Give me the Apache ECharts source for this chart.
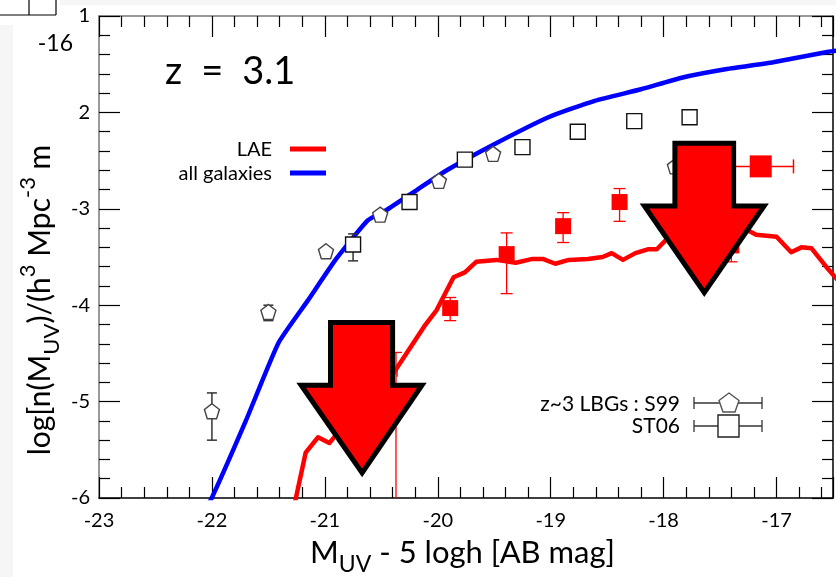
<!DOCTYPE html>
<html><head><meta charset="utf-8">
<script src="https://cdn.jsdelivr.net/npm/echarts@6/dist/echarts.min.js"></script>
<style>html,body{margin:0;padding:0;background:#fff}#c{width:836px;height:577px}</style>
</head><body><div id="c"></div>
<script>
// ---- data ----
const xTicks = [-23, -22, -21, -20, -19, -18, -17];
const yTicks = [-6, -5, -4, -3, -2, -1];
const yTickLabels = {'-1': '1', '-2': '2', '-3': '-3', '-4': '-4', '-5': '-5', '-6': '-6'};
const allGalX = [-22.08, -22.01, -21.7, -21.41, -21.15, -20.9, -20.62, -20.45, -20.18, -19.92, -19.5, -19.02, -18.61, -18.2, -17.84, -17.44, -17.03, -16.54, -16.4];
const allGalY = [-6.12, -6.02, -5.2, -4.39, -3.95, -3.52, -3.12, -3.01, -2.80, -2.60, -2.33, -2.05, -1.88, -1.76, -1.64, -1.55, -1.48, -1.37, -1.35];
const laeX = [-21.28, -21.26, -21.17, -21.06, -20.96, -20.89, -20.71, -20.54, -20.39, -20.12, -20.01, -19.86, -19.76, -19.66, -19.48, -19.31, -19.16, -19.07, -18.96, -18.84, -18.67, -18.54, -18.46, -18.36, -18.25, -18.14, -18.06, -17.96, -17.73, -17.46, -17.26, -17.18, -17.0, -16.87, -16.78, -16.69, -16.54, -16.45];
const laeY = [-6.2, -6.02, -5.53, -5.37, -5.43, -5.33, -5.09, -4.88, -4.70, -4.22, -4.05, -3.71, -3.66, -3.55, -3.53, -3.56, -3.52, -3.52, -3.57, -3.53, -3.52, -3.50, -3.46, -3.53, -3.46, -3.42, -3.42, -3.30, -3.20, -3.14, -3.22, -3.27, -3.29, -3.45, -3.40, -3.41, -3.63, -3.75];
// S99 pentagons: x, y, yLow, yHigh
const s99X = [-22.0, -21.50, -20.99, -20.51, -19.99, -19.51, -17.90];
const s99Y = [-5.10, -4.07, -3.44, -3.06, -2.71, -2.43, -2.56];
const s99Lo = [-5.40, -4.16, null, null, null, null, null];
const s99Hi = [-4.91, -4.00, null, null, null, null, null];
// ST06 squares
const st06X = [-20.75, -20.25, -19.76, -19.25, -18.76, -18.26, -17.77];
const st06Y = [-3.37, -2.93, -2.49, -2.36, -2.20, -2.09, -2.05];
const st06Lo = [-3.54, null, null, null, null, null, null];
const st06Hi = [-3.26, null, null, null, null, null, null];
// LAE observed points (red squares)
const laeObsX = [-20.55, -19.89, -19.39, -18.89, -18.39, -17.40];
const laeObsY = [-4.68, -4.03, -3.47, -3.18, -2.93, -3.38];
const laeObsLo = [-6.3, -4.16, -3.88, -3.35, -3.13, -3.55];
const laeObsHi = [-4.49, -3.92, -3.25, -3.04, -2.79, -3.20];
const laeObsErrX = [-20.37, -19.89, -19.39, -18.89, -18.39, -17.40];
const laeObsXLo = [-20.96, null, null, null, null, null];
const laeObsXHi = [-20.36, null, null, null, null, null];
const laeBigX = [-17.14];
const laeBigY = [-2.56];
const laeBigXLo = [-17.43];
const laeBigXHi = [-16.85];
// annotation arrows (data coords): shaftL, shaftR, shaftTop, headY, headL, headR, tipX, tipY
const arrow1 = [-20.95, -20.40, -4.18, -4.83, -21.21, -20.14, -20.67, -5.74];
const arrow2 = [-17.90, -17.38, -2.32, -2.97, -18.17, -17.11, -17.64, -3.87];

// ---- build ----
const FONT = 'Lato';
const zip = (a, b) => a.map((v, i) => [v, b[i]]);
const pent = 'path://M0,-10 L9.51,-3.09 L5.88,8.09 L-5.88,8.09 L-9.51,-3.09 Z';

function vErr(xs, lo, hi, color, cap, lw) {
  const data = xs.map((x, i) => [x, lo[i], hi[i]]).filter(d => d[1] != null);
  return {
    type: 'custom', z: 3, silent: true, clip: true, data,
    renderItem(p, api) {
      const a = api.coord([api.value(0), api.value(1)]);
      const b = api.coord([api.value(0), api.value(2)]);
      const st = {stroke: color, lineWidth: lw};
      return {type: 'group', children: [
        {type: 'line', shape: {x1: a[0], y1: a[1], x2: b[0], y2: b[1]}, style: st},
        {type: 'line', shape: {x1: a[0] - cap, y1: a[1], x2: a[0] + cap, y2: a[1]}, style: st},
        {type: 'line', shape: {x1: b[0] - cap, y1: b[1], x2: b[0] + cap, y2: b[1]}, style: st}
      ]};
    }
  };
}
function hErr(ys, lo, hi, color, cap, lw) {
  const data = ys.map((y, i) => [y, lo[i], hi[i]]).filter(d => d[1] != null);
  return {
    type: 'custom', z: 3, silent: true, clip: true, data,
    renderItem(p, api) {
      const a = api.coord([api.value(1), api.value(0)]);
      const b = api.coord([api.value(2), api.value(0)]);
      const st = {stroke: color, lineWidth: lw};
      return {type: 'group', children: [
        {type: 'line', shape: {x1: a[0], y1: a[1], x2: b[0], y2: b[1]}, style: st},
        {type: 'line', shape: {x1: a[0], y1: a[1] - cap, x2: a[0], y2: a[1] + cap}, style: st},
        {type: 'line', shape: {x1: b[0], y1: b[1] - cap, x2: b[0], y2: b[1] + cap}, style: st}
      ]};
    }
  };
}
function arrowSeries(arr) {
  return {
    type: 'custom', z: 10, silent: true, clip: false, data: [arr],
    renderItem(p, api) {
      const v = i => api.value(i);
      const c = (x, y) => api.coord([x, y]);
      const pts = [c(v(0), v(2)), c(v(1), v(2)), c(v(1), v(3)), c(v(5), v(3)), c(v(6), v(7)), c(v(4), v(3)), c(v(0), v(3))];
      return {type: 'polygon', shape: {points: pts}, style: {fill: '#ff0000', stroke: '#000', lineWidth: 5, lineJoin: 'miter'}};
    }
  };
}

const axisCommon = {
  interval: 1,
  axisLine: {show: true, onZero: false, lineStyle: {color: '#000', width: 1.5}},
  axisTick: {show: true, inside: true, length: 21, lineStyle: {color: '#000', width: 1.2}},
  minorTick: {show: true, splitNumber: 5, length: 11, lineStyle: {color: '#000', width: 1.2}},
  splitLine: {show: false}
};

const chart = echarts.init(document.getElementById('c'), null, {renderer: 'canvas'});
const option = {
  backgroundColor: '#fff',
  animation: false,
  grid: {left: 99, top: 16, right: -4, bottom: 79, containLabel: false},
  xAxis: [
    Object.assign({}, axisCommon, {type: 'value', position: 'bottom', min: -23, max: -16.5,
      axisLabel: {show: true, margin: 13, fontFamily: FONT, fontSize: 20, color: '#000',
        formatter: v => xTicks.includes(v) ? String(v) : ''}}),
    Object.assign({}, axisCommon, {type: 'value', position: 'top', min: -23, max: -16.5,
      axisLine: {show: true, onZero: false, lineStyle: {color: '#777', width: 1.5}},
      axisLabel: {show: false}})
  ],
  yAxis: [
    Object.assign({}, axisCommon, {type: 'value', position: 'left', min: -6, max: -1,
      axisLine: {show: true, onZero: false, lineStyle: {color: '#777', width: 1.5}},
      axisLabel: {show: true, margin: 9, fontFamily: FONT, fontSize: 20, color: '#000',
        formatter: v => yTickLabels[String(v)] || ''}}),
    Object.assign({}, axisCommon, {type: 'value', position: 'right', min: -6, max: -1,
      axisLabel: {show: false}})
  ],
  series: [
    {type: 'line', z: 2, data: zip(allGalX, allGalY), showSymbol: false, symbol: 'none', smooth: 0.15,
      lineStyle: {color: '#0000ff', width: 4.5}, clip: true},
    {type: 'line', z: 2, data: zip(laeX, laeY), showSymbol: false, symbol: 'none',
      lineStyle: {color: '#ff0000', width: 4.5, join: 'round'}, clip: true},
    vErr(s99X, s99Lo, s99Hi, '#333', 5, 1.5),
    vErr(st06X, st06Lo, st06Hi, '#333', 5, 1.5),
    vErr(laeObsErrX, laeObsLo, laeObsHi, '#ff0000', 6, 1.3),
    hErr(laeObsY, laeObsXLo, laeObsXHi, '#ff0000', 6, 1.3),
    hErr(laeBigY, laeBigXLo, laeBigXHi, '#ff0000', 7, 1.5),
    {type: 'scatter', z: 4, data: zip(s99X, s99Y), symbol: pent, symbolSize: 15,
      itemStyle: {color: '#fff', borderColor: '#444', borderWidth: 1.4, opacity: 1}},
    {type: 'scatter', z: 4, data: zip(st06X, st06Y), symbol: 'rect', symbolSize: 15,
      itemStyle: {color: '#fff', borderColor: '#111', borderWidth: 1.4, opacity: 1}},
    {type: 'scatter', z: 5, data: zip(laeObsX, laeObsY), symbol: 'rect', symbolSize: 16,
      itemStyle: {color: '#ff0000', opacity: 1}},
    {type: 'scatter', z: 5, data: zip(laeBigX, laeBigY), symbol: 'rect', symbolSize: 22,
      itemStyle: {color: '#ff0000', opacity: 1}},
    arrowSeries(arrow1),
    arrowSeries(arrow2)
  ],
  graphic: [
    {type: 'rect', z: -1, shape: {x: 0, y: 25, width: 13, height: 552}, style: {fill: '#f6f6f6'}},
    {type: 'rect', z: -1, shape: {x: 60, y: 0, width: 776, height: 5}, style: {fill: '#f6f6f6'}},
    {type: 'line', shape: {x1: 0, y1: 15, x2: 56, y2: 15}, style: {stroke: '#000', lineWidth: 1.2}},
    {type: 'line', shape: {x1: 29, y1: 0, x2: 29, y2: 15}, style: {stroke: '#000', lineWidth: 1.2}},
    {type: 'line', shape: {x1: 56, y1: 0, x2: 56, y2: 15}, style: {stroke: '#000', lineWidth: 1.2}},
    {type: 'text', x: 73, y: 44, style: {text: '-16', fontFamily: FONT, fontSize: 23, fill: '#000', align: 'right', verticalAlign: 'middle'}},
    {type: 'text', x: 165, y: 72, style: {text: 'z\u2002=\u20023.1', fontFamily: FONT, fontSize: 38, fill: '#000', align: 'left', verticalAlign: 'middle'}},
    {type: 'text', x: 272, y: 150, style: {text: 'LAE', fontFamily: FONT, fontSize: 20, fill: '#000', align: 'right', verticalAlign: 'middle'}},
    {type: 'text', x: 272, y: 174, style: {text: 'all galaxies', fontFamily: FONT, fontSize: 20, fill: '#000', align: 'right', verticalAlign: 'middle'}},
    {type: 'line', shape: {x1: 290, y1: 149, x2: 326, y2: 149}, style: {stroke: '#ff0000', lineWidth: 5}},
    {type: 'line', shape: {x1: 290, y1: 173, x2: 326, y2: 173}, style: {stroke: '#0000ff', lineWidth: 5}},
    // bottom-right legend
    {type: 'text', x: 680, y: 404, style: {text: 'z~3 LBGs : S99', fontFamily: FONT, fontSize: 21, fill: '#000', align: 'right', verticalAlign: 'middle'}},
    {type: 'text', x: 680, y: 426, style: {text: 'ST06', fontFamily: FONT, fontSize: 21, fill: '#000', align: 'right', verticalAlign: 'middle'}},
    {type: 'line', shape: {x1: 694, y1: 403, x2: 762, y2: 403}, style: {stroke: '#333', lineWidth: 1.3}},
    {type: 'line', shape: {x1: 694, y1: 397, x2: 694, y2: 409}, style: {stroke: '#333', lineWidth: 1.3}},
    {type: 'line', shape: {x1: 762, y1: 397, x2: 762, y2: 409}, style: {stroke: '#333', lineWidth: 1.3}},
    {type: 'polygon', shape: {points: [[729, 393], [739, 400.5], [735, 412], [723, 412], [719, 400.5]]}, style: {fill: '#fff', stroke: '#555', lineWidth: 1.4}},
    {type: 'line', shape: {x1: 694, y1: 426, x2: 762, y2: 426}, style: {stroke: '#333', lineWidth: 1.3}},
    {type: 'line', shape: {x1: 694, y1: 420, x2: 694, y2: 432}, style: {stroke: '#333', lineWidth: 1.3}},
    {type: 'line', shape: {x1: 762, y1: 420, x2: 762, y2: 432}, style: {stroke: '#333', lineWidth: 1.3}},
    {type: 'rect', shape: {x: 718, y: 415, width: 21, height: 22}, style: {fill: '#fff', stroke: '#222', lineWidth: 1.4}},
    // axis titles
    {type: 'text', x: 310, y: 553, style: {
      text: '{a|M}{sub|UV}{a| - 5 logh [AB mag]}', fontFamily: FONT, align: 'left', verticalAlign: 'middle',
      rich: {a: {fontFamily: FONT, fontSize: 31, fill: '#000', lineHeight: 46, verticalAlign: 'middle'},
             sub: {fontFamily: FONT, fontSize: 23, fill: '#000', lineHeight: 23, verticalAlign: 'bottom'}}}},
    {type: 'text', x: 40, y: 300, rotation: Math.PI / 2, style: {
      text: '{a|log[n(M}{sub|UV}{a|)/(h}{sup|3}{a| Mpc}{sup|-3}{a| m}', fontFamily: FONT, align: 'center', verticalAlign: 'middle',
      rich: {a: {fontFamily: FONT, fontSize: 30, fill: '#000', lineHeight: 46, verticalAlign: 'middle'},
             sub: {fontFamily: FONT, fontSize: 22, fill: '#000', lineHeight: 22, verticalAlign: 'bottom'},
             sup: {fontFamily: FONT, fontSize: 22, fill: '#000', lineHeight: 22, verticalAlign: 'top'}}}}
  ]
};
chart.setOption(option);
</script></body></html>
